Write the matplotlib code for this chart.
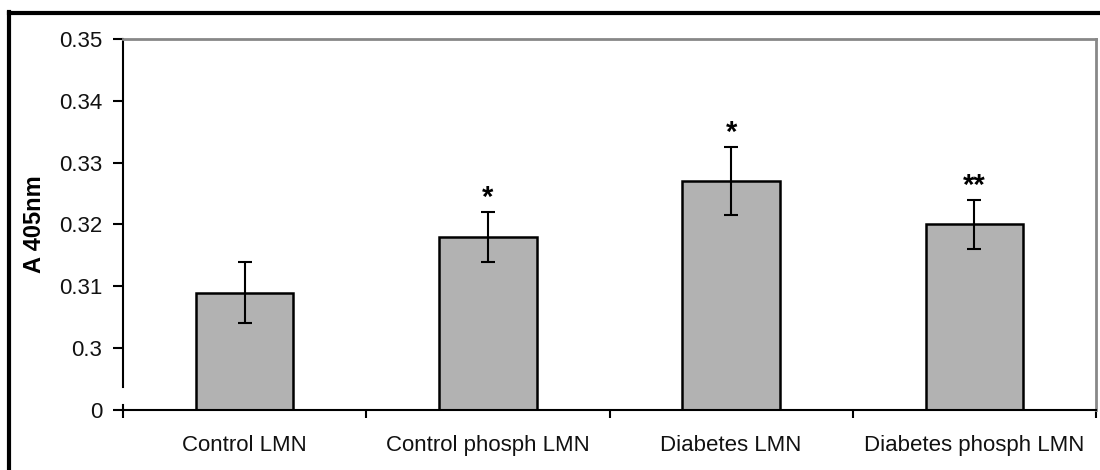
import matplotlib
matplotlib.use("Agg")
import matplotlib.pyplot as plt
from matplotlib.lines import Line2D
import numpy as np

plt.rcParams['font.family'] = ['Liberation Sans', 'DejaVu Sans']

groups = ['Control LMN', 'Control phosph LMN', 'Diabetes LMN', 'Diabetes phosph LMN']
means = [0.309, 0.318, 0.327, 0.320]
errs = [0.005, 0.004, 0.0055, 0.004]
stars = ['', '*', '*', '**']
ytick_vals = [0, 0.30, 0.31, 0.32, 0.33, 0.34, 0.35]
ytick_text = ['0', '0.3', '0.31', '0.32', '0.33', '0.34', '0.35']

# broken axis: 0 sits one step below 0.30, the rest is linear
def ypos(v):
    v = np.asarray(v, dtype=float)
    return np.where(v <= 0, 0.0, (v - 0.30) / 0.01 + 1)

fig = plt.figure(figsize=(11, 4.7), dpi=100)
ax = fig.add_axes([0.1118, 0.1277, 0.8846, 0.7893])

x = np.arange(len(groups))
tops = ypos(means)
ax.bar(x, tops, width=0.4, color='#b2b2b2', edgecolor='black', linewidth=1.8, zorder=2)
ax.errorbar(x, tops, yerr=np.array(errs) / 0.01, fmt='none', ecolor='black',
            elinewidth=1.5, capsize=5, capthick=1.5, zorder=3)

for xi, t, e, s in zip(x, tops, errs, stars):
    if s:
        ax.annotate(s, (xi, t + e / 0.01), xytext=(0, 0), textcoords='offset points',
                    ha='center', va='bottom', fontsize=21, fontweight='bold')

ax.set_xlim(-0.5, 3.5)
ax.set_ylim(0, 6)
ax.set_yticks(ypos(ytick_vals))
ax.set_yticklabels(ytick_text, fontsize=16, color='#111111')
ax.set_xticks(x)
ax.set_xticklabels(groups, fontsize=16, color='#111111')
ax.set_xticks(np.arange(-0.5, 4.0, 1.0), minor=True)
ax.tick_params(axis='x', which='major', length=0, pad=18)
ax.tick_params(axis='x', which='minor', length=6, width=1.5, direction='out')
ax.tick_params(axis='y', length=7, width=1.5, direction='out', pad=8)
ax.set_ylabel('A 405nm', fontsize=17, fontweight='bold', labelpad=9)

for side in ['top', 'right']:
    ax.spines[side].set_color('#888888')
    ax.spines[side].set_linewidth(2)
ax.spines['bottom'].set_linewidth(1.5)
ax.spines['left'].set_linewidth(1.5)
ax.spines['left'].set_bounds(0.37, 6)
ax.plot([-0.5, -0.5], [0, 0.08], color='black', lw=1.5, clip_on=False, zorder=4)

# outer frame
fig.add_artist(Line2D([0.0085, 0.0085], [0.975, -0.05], color='black', lw=3))
fig.add_artist(Line2D([0.0085, 1.05], [0.973, 0.973], color='black', lw=3))

fig.savefig('out.png', dpi=100)
